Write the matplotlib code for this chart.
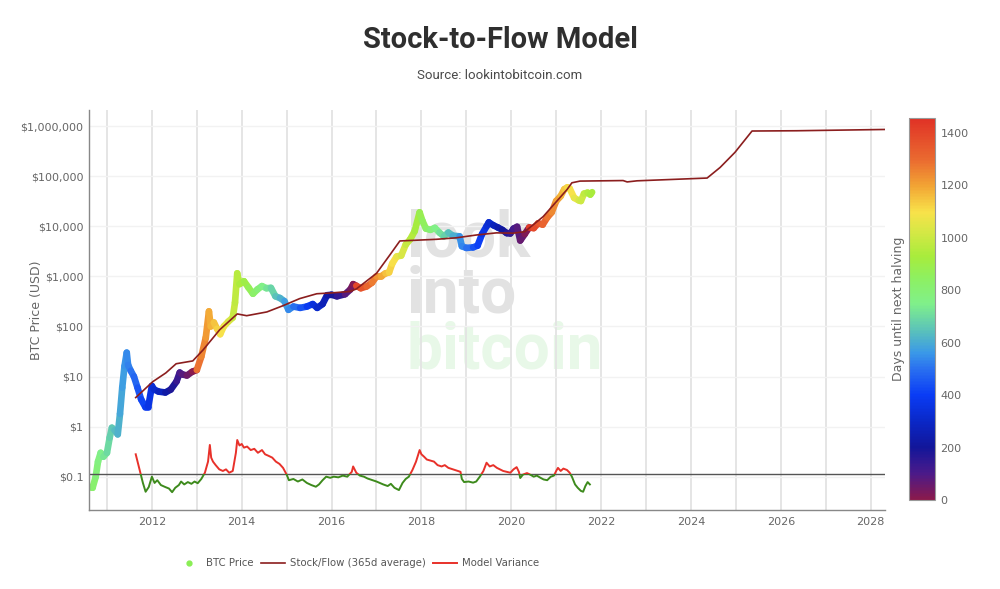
import numpy as np
import matplotlib.pyplot as plt
from matplotlib.collections import LineCollection
from matplotlib.colors import LinearSegmentedColormap, Normalize
from matplotlib.cm import ScalarMappable
from matplotlib.lines import Line2D
from matplotlib.patches import Rectangle
from matplotlib.ticker import FixedLocator, FuncFormatter, NullFormatter

# BTC price (decimal year, USD)
price_years = [2010.55, 2010.62, 2010.68, 2010.75, 2010.80, 2010.86, 2010.92, 2011.00, 2011.06,
               2011.11, 2011.17, 2011.24, 2011.29, 2011.34, 2011.39, 2011.44, 2011.47, 2011.53,
               2011.60, 2011.68, 2011.76, 2011.85, 2011.92, 2012.00, 2012.05, 2012.15, 2012.30,
               2012.42, 2012.55, 2012.62, 2012.68, 2012.78, 2012.90, 2013.00, 2013.10, 2013.20,
               2013.27, 2013.31, 2013.38, 2013.45, 2013.52, 2013.60, 2013.70, 2013.80, 2013.85,
               2013.90, 2013.95, 2014.05, 2014.15, 2014.25, 2014.35, 2014.45, 2014.55, 2014.65,
               2014.75, 2014.85, 2014.95, 2015.04, 2015.15, 2015.30, 2015.45, 2015.58, 2015.68,
               2015.80, 2015.90, 2016.00, 2016.12, 2016.30, 2016.42, 2016.48, 2016.55, 2016.65,
               2016.78, 2016.90, 2017.00, 2017.10, 2017.20, 2017.28, 2017.35, 2017.45, 2017.55,
               2017.65, 2017.75, 2017.85, 2017.96, 2018.02, 2018.10, 2018.20, 2018.30, 2018.40,
               2018.50, 2018.60, 2018.70, 2018.85, 2018.90, 2019.00, 2019.15, 2019.25, 2019.35,
               2019.45, 2019.50, 2019.60, 2019.70, 2019.80, 2019.90, 2019.98, 2020.05, 2020.13,
               2020.20, 2020.30, 2020.40, 2020.50, 2020.60, 2020.70, 2020.80, 2020.90, 2021.00,
               2021.10, 2021.18, 2021.25, 2021.30, 2021.40, 2021.50, 2021.55, 2021.62, 2021.70,
               2021.76, 2021.80]
price_usd = [0.06, 0.062, 0.06, 0.1, 0.2, 0.3, 0.25, 0.3, 0.6,
             0.95, 0.85, 0.7, 1.8, 6, 16, 30, 17, 13,
             10, 6, 3.5, 2.5, 2.5, 6.5, 5.5, 5, 4.8,
             5.5, 8, 12, 11, 10.5, 12.5, 13.5, 25, 60,
             200, 100, 120, 90, 70, 100, 125, 150, 300,
             1150, 700, 800, 600, 450, 550, 640, 580, 590,
             400, 370, 320, 215, 250, 235, 250, 280, 235,
             280, 420, 430, 400, 440, 550, 700, 650, 580,
             630, 750, 1000, 1000, 1150, 1200, 1800, 2500, 2600,
             4300, 5500, 8000, 19000, 13000, 9000, 8500, 9300, 7500,
             6300, 7500, 6500, 6300, 4000, 3700, 3800, 4100, 7000,
             10000, 12000, 10500, 9500, 8500, 7300, 7200, 9000, 9800,
             5200, 7000, 9500, 9200, 11500, 10800, 15000, 19000, 32000,
             40000, 55000, 60000, 57000, 37000, 33000, 32000, 45000, 47000,
             43000, 48000]

# Stock/Flow model (365d average)
s2f_years = [2011.64, 2012.02, 2012.31, 2012.54, 2012.91, 2013.14, 2013.51, 2013.90, 2014.11,
             2014.56, 2014.92, 2015.29, 2015.67, 2016.03, 2016.41, 2016.55, 2017.00, 2017.30,
             2017.52, 2018.33, 2018.78, 2019.22, 2019.67, 2020.04, 2020.30, 2020.71, 2021.24,
             2021.35, 2021.53, 2022.49, 2022.58, 2022.80, 2024.36, 2024.65, 2024.98, 2025.36,
             2026.36, 2028.35]
s2f_usd = [3.8, 7.9, 11.8, 18, 20.5, 34, 86, 178, 164,
           195, 260, 360, 450, 470, 500, 560, 1150, 2700,
           5100, 5500, 5900, 6700, 7400, 7300, 7800, 15600, 54000,
           74000, 80000, 82000, 77000, 81000, 92000, 150000, 300000, 800000,
           810000, 860000]

# Model variance (plotted on the price axis)
var_years = [2011.64, 2011.70, 2011.75, 2011.80, 2011.86, 2011.93, 2012.00, 2012.06, 2012.12,
             2012.20, 2012.30, 2012.38, 2012.45, 2012.52, 2012.60, 2012.65, 2012.72, 2012.80,
             2012.88, 2012.95, 2013.02, 2013.10, 2013.18, 2013.25, 2013.29, 2013.32, 2013.36,
             2013.42, 2013.50, 2013.58, 2013.65, 2013.72, 2013.80, 2013.87, 2013.90, 2013.95,
             2014.00, 2014.05, 2014.12, 2014.20, 2014.28, 2014.36, 2014.45, 2014.52, 2014.60,
             2014.68, 2014.76, 2014.84, 2014.92, 2015.00, 2015.05, 2015.15, 2015.25, 2015.35,
             2015.45, 2015.55, 2015.65, 2015.72, 2015.80, 2015.88, 2015.97, 2016.05, 2016.15,
             2016.25, 2016.35, 2016.45, 2016.48, 2016.55, 2016.63, 2016.72, 2016.80, 2016.90,
             2017.00, 2017.07, 2017.15, 2017.25, 2017.32, 2017.40, 2017.50, 2017.58, 2017.65,
             2017.72, 2017.80, 2017.88, 2017.96, 2018.00, 2018.06, 2018.12, 2018.20, 2018.28,
             2018.36, 2018.45, 2018.52, 2018.60, 2018.70, 2018.80, 2018.87, 2018.90, 2018.95,
             2019.05, 2019.15, 2019.22, 2019.30, 2019.38, 2019.45, 2019.52, 2019.60, 2019.68,
             2019.75, 2019.82, 2019.90, 2019.98, 2020.05, 2020.12, 2020.17, 2020.20, 2020.26,
             2020.35, 2020.42, 2020.50, 2020.57, 2020.65, 2020.72, 2020.80, 2020.88, 2020.95,
             2021.00, 2021.04, 2021.10, 2021.16, 2021.24, 2021.30, 2021.35, 2021.42, 2021.48,
             2021.55, 2021.60, 2021.65, 2021.70, 2021.75]
var_vals = [0.28, 0.17, 0.11, 0.075, 0.05, 0.062, 0.1, 0.075, 0.085,
            0.068, 0.062, 0.058, 0.049, 0.06, 0.068, 0.08, 0.07, 0.078,
            0.072, 0.08, 0.074, 0.09, 0.12, 0.2, 0.43, 0.24, 0.2,
            0.17, 0.14, 0.13, 0.14, 0.12, 0.13, 0.3, 0.54, 0.42,
            0.45, 0.38, 0.4, 0.34, 0.36, 0.3, 0.34, 0.28, 0.26,
            0.24, 0.2, 0.18, 0.15, 0.11, 0.085, 0.09, 0.08, 0.088,
            0.075, 0.068, 0.063, 0.07, 0.085, 0.1, 0.095, 0.1, 0.097,
            0.105, 0.1, 0.125, 0.16, 0.12, 0.105, 0.1, 0.092, 0.086,
            0.08, 0.075, 0.07, 0.065, 0.072, 0.06, 0.054, 0.075, 0.09,
            0.1, 0.136, 0.2, 0.34, 0.28, 0.25, 0.22, 0.21, 0.2,
            0.17, 0.16, 0.17, 0.15, 0.14, 0.13, 0.125, 0.09, 0.078,
            0.08, 0.076, 0.08, 0.1, 0.13, 0.19, 0.16, 0.17, 0.15,
            0.14, 0.13, 0.125, 0.12, 0.14, 0.155, 0.125, 0.094, 0.11,
            0.118, 0.11, 0.1, 0.105, 0.095, 0.088, 0.085, 0.1, 0.105,
            0.13, 0.15, 0.13, 0.145, 0.136, 0.12, 0.1, 0.07, 0.06,
            0.052, 0.05, 0.065, 0.078, 0.07]
var_line = 0.112

halvings = [2012.91, 2016.52, 2020.36, 2024.30]
days_max = 1457

cbar_pos = [0, 0.069, 0.137, 0.206, 0.275, 0.343, 0.384, 0.446, 0.515,
            0.583, 0.638, 0.70, 0.755, 0.824, 0.892, 1.0]
cbar_cols = ['#8b1a4b', '#4a1a8a', '#12169a', '#0a28c8', '#0a3cf5', '#2a70f0',
             '#3a98e8', '#5cc4b8', '#80f08a', '#8ef060', '#a8ec3c', '#d4e845',
             '#f8e24a', '#f2a434', '#ea6a30', '#e03226']
cmap = LinearSegmentedColormap.from_list('halving', list(zip(cbar_pos, cbar_cols)))
norm = Normalize(0, days_max)


def days_to_halving(y):
    nxt = min(h for h in halvings if h > y)
    return (nxt - y) * 365.25


plt.rcParams['font.family'] = ['DejaVu Sans']
gray = '#666666'

fig = plt.figure(figsize=(10, 5.89), dpi=100)
ax = fig.add_axes([0.089, 0.134, 0.796, 0.679])

# watermark
ax.text(0.407, 0.5637, 'look', transform=fig.transFigure, fontsize=46, fontweight='bold',
        family='Roboto', color='#e2e2e2', zorder=0.5)
ax.text(0.407, 0.4686, 'into', transform=fig.transFigure, fontsize=46, fontweight='bold',
        family='Roboto', color='#e2e2e2', zorder=0.5)
ax.text(0.407, 0.3752, 'bitcoin', transform=fig.transFigure, fontsize=46, fontweight='bold',
        family='Roboto', color='#e8f8e8', zorder=0.5)

# BTC price coloured by days until next halving
px = np.array(price_years)
py = np.array(price_usd)
pts = np.column_stack([px, py])
segs = np.stack([pts[:-1], pts[1:]], axis=1)
days = np.array([days_to_halving(y) for y in px])
lc = LineCollection(segs, cmap=cmap, norm=norm, linewidths=4.8, capstyle='round',
                    joinstyle='round', zorder=2)
lc.set_array(days[:-1])
ax.add_collection(lc)

# stock/flow model
ax.plot(s2f_years, s2f_usd, color='#8b1e1e', lw=1.2, zorder=3)

# model variance, red above the line and green below
ax.axhline(var_line, color='#555555', lw=1, zorder=2)
red, = ax.plot(var_years, var_vals, color='#e8312a', lw=1.4, zorder=3)
green, = ax.plot(var_years, var_vals, color='#3d8a1c', lw=1.4, zorder=3)
red.set_clip_path(Rectangle((2000, var_line), 40, 1e6, transform=ax.transData))
green.set_clip_path(Rectangle((2000, 1e-4), 40, var_line - 1e-4, transform=ax.transData))

ax.set_yscale('log')
ax.set_xlim(2010.6, 2028.32)
ax.set_ylim(10 ** -1.667, 10 ** 6.32)

ax.xaxis.set_major_locator(FixedLocator(range(2012, 2029, 2)))
ax.xaxis.set_minor_locator(FixedLocator(range(2011, 2029)))
ax.yaxis.set_major_locator(FixedLocator([10.0 ** k for k in range(-1, 7)]))
ax.yaxis.set_minor_formatter(NullFormatter())
ax.yaxis.set_minor_locator(FixedLocator([]))
ax.yaxis.set_major_formatter(FuncFormatter(lambda v, _: '$0.1' if v < 1 else f'${v:,.0f}'))

ax.grid(True, axis='x', which='both', color='#e3e3e3', lw=1.3)
ax.grid(True, axis='y', which='major', color='#f2f2f2', lw=1)
ax.set_axisbelow(True)
ax.tick_params(which='both', length=0, colors=gray, labelsize=8)
ax.tick_params(axis='x', pad=5)
ax.tick_params(axis='y', pad=4)
for side in ['top', 'right']:
    ax.spines[side].set_visible(False)
for side in ['left', 'bottom']:
    ax.spines[side].set_color('#888888')
    ax.spines[side].set_linewidth(1)
ax.set_ylabel('BTC Price (USD)', color=gray, fontsize=9)
ax.yaxis.set_label_coords(-0.058, 0.5)

# colour bar
cax = fig.add_axes([0.909, 0.151, 0.026, 0.6486])
cb = fig.colorbar(ScalarMappable(norm=norm, cmap=cmap), cax=cax)
cb.set_ticks(range(0, 1401, 200))
cb.outline.set_edgecolor('#999999')
cb.outline.set_linewidth(0.8)
cax.tick_params(length=0, colors=gray, labelsize=8, pad=4)
cax.yaxis.set_label_position('left')
cb.set_label('Days until next halving', color=gray, fontsize=9, labelpad=3)

fig.text(0.5, 0.932, 'Stock-to-Flow Model', ha='center', va='center', fontsize=21,
         fontweight='bold', family='Roboto', color='#2f2f2f')
fig.text(0.5, 0.871, 'Source: lookintobitcoin.com', ha='center', va='center', fontsize=9.5,
         family='Roboto', color='#4a4a4a')

handles = [Line2D([], [], ls='none', marker='o', ms=3.5, color='#8aee55'),
           Line2D([], [], color='#8b1e1e', lw=1.2),
           Line2D([], [], color='#e8312a', lw=1.4)]
labels = ['BTC Price', 'Stock/Flow (365d average)', 'Model Variance']
leg = fig.legend(handles, labels, loc='center', bbox_to_anchor=(0.358, 0.044), ncol=3,
                 frameon=False, fontsize=7.3, handlelength=2.4, columnspacing=0.7,
                 handletextpad=0.5)
for t in leg.get_texts():
    t.set_color('#555555')

fig.savefig('out.png', dpi=100)
